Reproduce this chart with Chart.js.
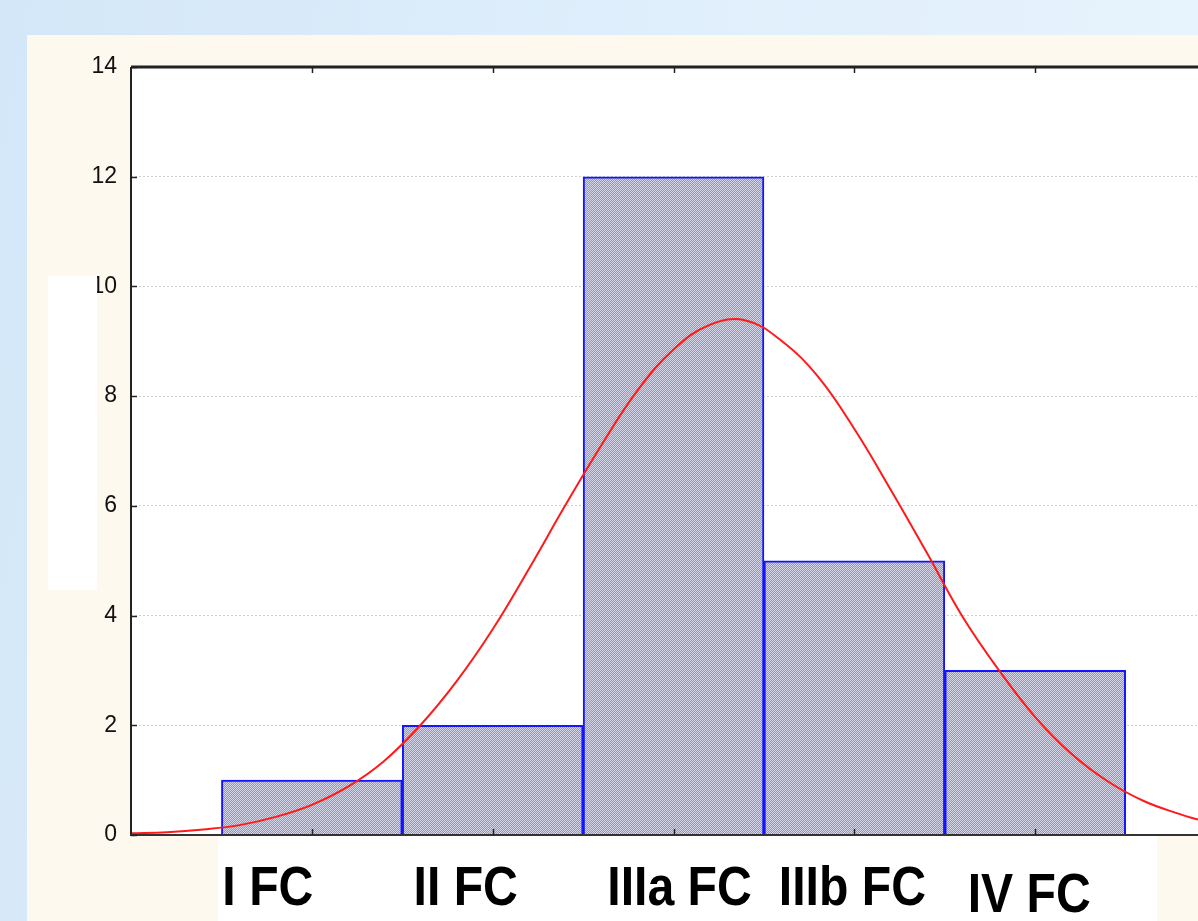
<!DOCTYPE html>
<html>
<head>
<meta charset="utf-8">
<script src="https://cdn.jsdelivr.net/npm/chart.js@4"></script>
<style>
    html, body { margin: 0; padding: 0; }
    body {
        width: 1198px; height: 921px; overflow: hidden; position: relative;
        background: linear-gradient(100deg, #d3e7f8 0%, #e2f0fc 60%, #e9f4fd 100%);
    }
    #panel { position: absolute; left: 27px; top: 35px; right: 0; bottom: 0; background: #fef9ee; }
    #chart { position: absolute; left: 0; top: 0; }
</style>
</head>
<body>
<div id="panel"></div>
<canvas id="chart" width="1198" height="921"></canvas>
<script>
// =======================
// DATA
// =======================
const categories = ["I FC", "II FC", "IIIa FC", "IIIb FC", "IV FC"];
const binCenters = [1, 2, 3, 4, 5];
const counts = [1, 2, 12, 5, 3];

// normal curve
const curveX = [0, 0.2, 0.4, 0.6, 0.8, 1.0, 1.2, 1.4, 1.6, 1.8, 2.0, 2.2, 2.4, 2.6, 2.8, 3.0, 3.2, 3.4, 3.6, 3.8, 4.0, 4.2, 4.4, 4.6, 4.8, 5.0, 5.2, 5.4, 5.6, 5.8, 5.9];
const curveY = [0.03, 0.05, 0.10, 0.18, 0.33, 0.55, 0.88, 1.35, 2.0, 2.8, 3.75, 4.85, 6.0, 7.1, 8.1, 8.85, 9.3, 9.38, 9.0, 8.35, 7.4, 6.3, 5.15, 3.97, 3.0, 2.15, 1.48, 0.98, 0.62, 0.38, 0.28];

const yTicks = [0, 2, 4, 6, 8, 10, 12, 14];

// =======================
// HATCH PATTERN
// =======================
function makeHatch() {
    const c = document.createElement("canvas");
    c.width = 4; c.height = 4;
    const g = c.getContext("2d");
    g.fillStyle = "#d4d6e8";
    g.fillRect(0, 0, 4, 4);
    g.fillStyle = "#9196bd";
    for (let i = 0; i < 4; i++) {
        g.fillRect(i, 3 - i, 1, 1);
        g.fillRect((i + 2) % 4, 3 - i, 1, 1);
    }
    return g.createPattern(c, "repeat");
}
const ctx = document.getElementById("chart").getContext("2d");
const hatch = makeHatch();

// =======================
// EXTRA DRAWING
// =======================
const decor = {
    id: "decor",
    beforeDraw(chart) {
        const a = chart.chartArea, c = chart.ctx;
        c.save();
        c.fillStyle = "#ffffff";
        c.fillRect(a.left, a.top, a.right - a.left, a.bottom - a.top);
        c.restore();
    },
    afterDraw(chart) {
        const a = chart.chartArea, c = chart.ctx;
        const xs = chart.scales.x, ys = chart.scales.y;
        c.save();

        // frame
        c.strokeStyle = "#222";
        c.lineWidth = 3;
        c.beginPath();
        c.moveTo(a.left, a.top); c.lineTo(a.right, a.top);
        c.stroke();
        c.lineWidth = 2;
        c.beginPath();
        c.moveTo(a.left, a.bottom + 1); c.lineTo(a.left, a.top);
        c.stroke();
        c.strokeStyle = "#333";
        c.beginPath();
        c.moveTo(a.left, a.bottom); c.lineTo(a.right, a.bottom);
        c.stroke();

        // inner ticks
        c.lineWidth = 1.5;
        c.strokeStyle = "#222";
        binCenters.forEach(v => {
            const px = Math.round(xs.getPixelForValue(v)) + 0.5;
            c.beginPath(); c.moveTo(px, a.top); c.lineTo(px, a.top + 6); c.stroke();
            c.beginPath(); c.moveTo(px, a.bottom); c.lineTo(px, a.bottom - 6); c.stroke();
        });
        yTicks.forEach(v => {
            const py = Math.round(ys.getPixelForValue(v)) + 0.5;
            c.beginPath(); c.moveTo(a.left, py); c.lineTo(a.left + 6, py); c.stroke();
        });

        // white patches
        c.fillStyle = "#ffffff";
        c.fillRect(48, 276, 49, 314);
        c.fillRect(218, a.bottom + 1, 939, 921 - a.bottom);

        // category labels (narrow bold)
        c.fillStyle = "#000";
        c.font = "bold 56px 'Liberation Sans', Arial, sans-serif";
        c.textAlign = "center";
        c.textBaseline = "alphabetic";
        const shift = [-44, -27, 6, -2, -6];
        const drop = [0, 0, 0, 0, 7];
        const sx = 0.86;
        categories.forEach((t, i) => {
            const px = xs.getPixelForValue(binCenters[i]) + shift[i];
            c.save();
            c.translate(px, 905 + drop[i]);
            c.scale(sx, 1);
            c.fillText(t, 0, 0);
            c.restore();
        });
        c.restore();
    }
};

// =======================
// CHART
// =======================
new Chart(ctx, {
    data: {
        datasets: [{
            type: "line",
            data: curveX.map((x, i) => ({ x: x, y: curveY[i] })),
            borderColor: "#ff1a1a",
            borderWidth: 2,
            pointRadius: 0,
            tension: 0.4,
            order: 0
        }, {
            type: "bar",
            data: binCenters.map((x, i) => ({ x: x, y: counts[i] })),
            backgroundColor: hatch,
            borderColor: "#1414ff",
            borderWidth: 2,
            barPercentage: 1,
            categoryPercentage: 1,
            order: 1
        }]
    },
    options: {
        responsive: false,
        animation: false,
        layout: { padding: { top: 67, right: 0, left: 0, bottom: 0 } },
        plugins: { legend: { display: false }, tooltip: { enabled: false } },
        scales: {
            x: {
                type: "linear",
                min: 0,
                max: 5.9,
                offset: false,
                afterBuildTicks(s) { s.ticks = binCenters.map(v => ({ value: v })); },
                ticks: { display: false },
                grid: { display: false },
                border: { display: false },
                afterFit(s) { s.height = 86; }
            },
            y: {
                min: 0,
                max: 14,
                afterBuildTicks(s) { s.ticks = yTicks.map(v => ({ value: v })); },
                ticks: {
                    color: "#111",
                    padding: 14,
                    font: { family: "'Liberation Sans', Arial, sans-serif", size: 23 }
                },
                grid: {
                    drawTicks: false,
                    color: "#cfcfcf",
                    lineWidth: 1
                },
                border: { display: false, dash: [2, 2] },
                afterFit(s) { s.width = 131; }
            }
        }
    },
    plugins: [decor]
});
</script>
</body>
</html>
